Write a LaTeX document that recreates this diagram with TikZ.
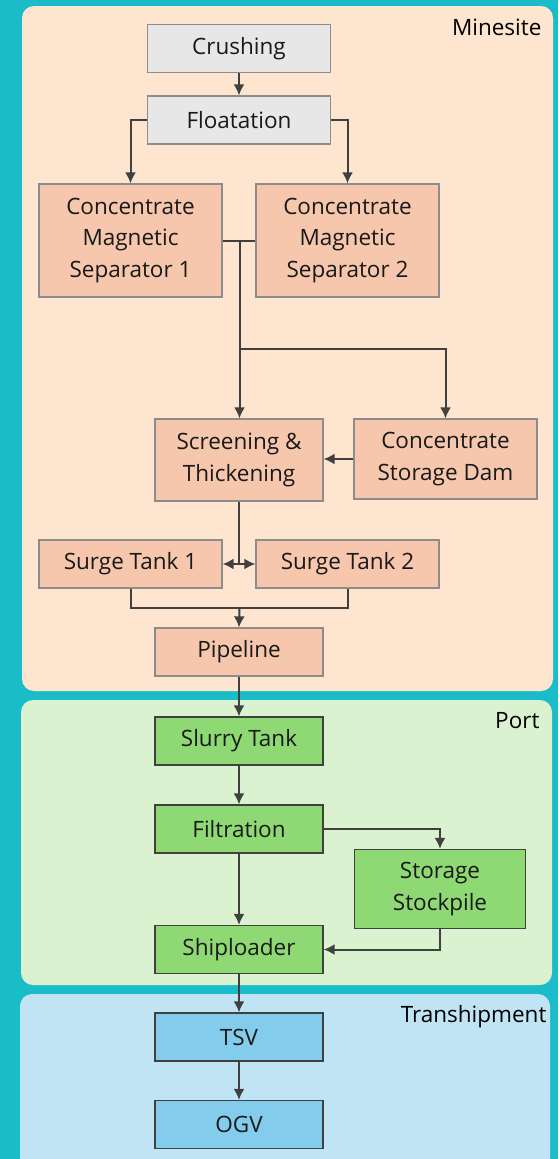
\documentclass[tikz,border=0pt]{standalone}
\usepackage{fontspec}
\setmainfont{Open Sans}
\usepackage{tikz}
\usetikzlibrary{arrows.meta}

\definecolor{teal}{HTML}{1BBCCA}
\definecolor{minefill}{HTML}{FDE5D0}
\definecolor{portfill}{HTML}{DAF2D0}
\definecolor{shipfill}{HTML}{C1E4F5}
\definecolor{greybox}{HTML}{E7E7E7}
\definecolor{peachbox}{HTML}{F6C6AD}
\definecolor{greenbox}{HTML}{8ED973}
\definecolor{bluebox}{HTML}{83CCEB}
\definecolor{lineclr}{HTML}{404040}

\begin{document}
\begin{tikzpicture}[x=1pt,y=-1pt,
  font=\fontsize{22.5}{31.5}\selectfont,
  box/.style={draw=gray!90,line width=1.3pt,minimum width=168pt,minimum height=48pt,align=center,inner sep=0pt,text=black!90},
  wide/.style={box,minimum width=183pt},
  flow/.style={draw=lineclr,line width=2pt,-{Latex[length=11pt,width=11pt]}},
  link/.style={draw=lineclr,line width=2pt},
  region/.style={rounded corners=12pt}]

  % background and areas
  \fill[teal] (0,0) rectangle (558,1159);
  \useasboundingbox (0,0) rectangle (558,1159);
  \fill[minefill,region] (22,6) rectangle (553,691);
  \fill[portfill,region] (21,700) rectangle (552,985);
  \fill[shipfill,region] (20,994) rectangle (550,1180);
  \node[anchor=base east] (minelbl) at (545,35) {Minesite};
  \node[anchor=base east] (portlbl) at (543,728) {Port};
  \node[anchor=base east] (shiplbl) at (550,1022) {Transhipment};

  % minesite
  \node[wide,fill=greybox] (crush) at (239,48.5) {Crushing};
  \node[wide,fill=greybox] (float) at (239,120) {Floatation};
  \node[wide,fill=peachbox,minimum height=113pt] (sep1) at (130.5,240.5) {Concentrate\\Magnetic\\Separator 1};
  \node[wide,fill=peachbox,minimum height=113pt] (sep2) at (347.5,240.5) {Concentrate\\Magnetic\\Separator 2};
  \node[box,fill=peachbox,minimum height=82pt] (screen) at (239,460) {Screening \&\\Thickening};
  \node[wide,fill=peachbox,minimum height=80pt] (dam) at (445.5,459) {Concentrate\\Storage Dam};
  \node[wide,fill=peachbox] (surge1) at (130.5,564) {Surge Tank 1};
  \node[wide,fill=peachbox] (surge2) at (347.5,564) {Surge Tank 2};
  \node[box,fill=peachbox] (pipe) at (239,652) {Pipeline};

  % port
  \node[box,fill=greenbox,draw=lineclr] (slurry) at (239,741) {Slurry Tank};
  \node[box,fill=greenbox,draw=lineclr] (filt) at (239,829) {Filtration};
  \node[box,fill=greenbox,draw=lineclr,minimum width=171pt,minimum height=79pt] (stock) at (440,889) {Storage\\Stockpile};
  \node[box,fill=greenbox,draw=lineclr] (ship) at (239,949.5) {Shiploader};

  % transhipment
  \node[box,fill=bluebox,draw=lineclr] (tsv) at (239,1037) {TSV};
  \node[box,fill=bluebox,draw=lineclr] (ogv) at (239,1124.5) {OGV};

  \coordinate (sepjoin) at (239.5,240.5);
  \coordinate (split) at (239.5,349);
  \coordinate (surgejoin) at (239.5,608);

  \draw[flow] (crush) -- (float);
  \draw[flow] (float.west) -| (sep1.north);
  \draw[flow] (float.east) -| (sep2.north);
  \draw[link] (sep1.east) -- (sep2.west);
  \draw[flow] (sepjoin) -- (sepjoin |- screen.north);
  \draw[flow] (split) -| (dam.north);
  \draw[flow] (dam.west) -- (dam.west -| screen.east);
  \draw[link] (screen.south) -- (screen.south |- surge1.east);
  \draw[flow,{Latex[length=11pt,width=11pt]}-{Latex[length=11pt,width=11pt]}] (surge1.east) -- (surge2.west);
  \draw[link] (surge1.south) |- (surgejoin) -| (surge2.south);
  \draw[flow] (surgejoin) -- (pipe.north);
  \draw[flow] (pipe) -- (slurry);
  \draw[flow] (slurry) -- (filt);
  \draw[flow] (filt.east) -| (stock.north);
  \draw[flow] (filt) -- (ship);
  \draw[flow] (stock.south) |- (ship.east);
  \draw[flow] (ship) -- (tsv);
  \draw[flow] (tsv) -- (ogv);
\end{tikzpicture}
\end{document}
